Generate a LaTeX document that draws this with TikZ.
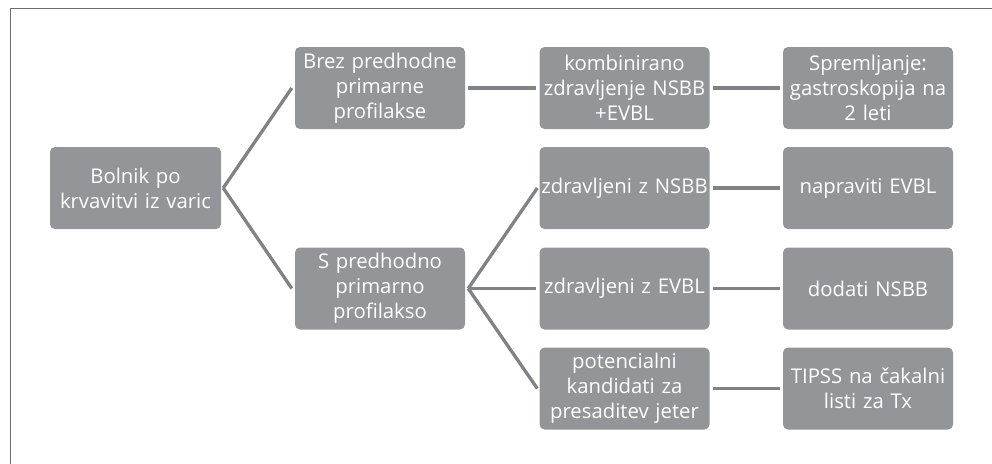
\documentclass[tikz,border=0pt]{standalone}
\usepackage{fontspec}
\setmainfont{Open Sans}
\definecolor{boxgray}{HTML}{939598}
\definecolor{linegray}{HTML}{808285}
\definecolor{framegray}{HTML}{6D6E71}
\begin{document}
\begin{tikzpicture}[x=1pt,y=-1pt,
  box/.style={fill=boxgray, rounded corners=5pt, minimum width=170pt, minimum height=82pt,
    inner sep=0pt, text=white, align=center, text width=169pt,
    font=\fontsize{20.3pt}{25pt}\selectfont},
  conn/.style={draw=linegray, line width=3.3pt}]
\useasboundingbox (0,0) rectangle (992,463);
\draw[framegray, line width=1.4pt] (10.5,470) -- (10.5,8.5) -- (1000,8.5);
\node[box, minimum width=171pt] (root) at (135.5,188) {Bolnik po\\krvavitvi iz varic};
\node[box] (brez) at (380,88) {Brez predhodne\\primarne\\profilakse};
\node[box] (spred) at (380,288.5) {S predhodno\\primarno\\profilakso};
\node[box] (komb) at (624.5,88) {kombinirano\\zdravljenje NSBB\\+EVBL};
\node[box] (znsbb) at (624.5,188) {zdravljeni z NSBB};
\node[box] (zevbl) at (624.5,288.5) {zdravljeni z EVBL};
\node[box] (pot) at (624.5,388.5) {potencialni\\kandidati za\\presaditev jeter};
\node[box] (sprem) at (868,88) {Spremljanje:\\gastroskopija na\\2 leti};
\node[box] (napr) at (868,188) {napraviti EVBL};
\node[box] (dodat) at (868,288.5) {dodati NSBB};
\node[box] (tipss) at (868,388.5) {TIPSS na čakalni\\listi za Tx};
\draw[conn] ([xshift=2pt]root.east) -- ([xshift=-3pt]brez.west);
\draw[conn] ([xshift=2pt]root.east) -- ([xshift=-3pt]spred.west);
\draw[conn] ([xshift=3pt]brez.east) -- ([xshift=-3pt]komb.west);
\draw[conn] ([xshift=3pt]spred.east) -- ([xshift=-2pt]znsbb.west);
\draw[conn] ([xshift=3pt]spred.east) -- ([xshift=-3pt]zevbl.west);
\draw[conn] ([xshift=3pt]spred.east) -- ([xshift=-2pt]pot.west);
\draw[conn] ([xshift=3pt]komb.east) -- ([xshift=-3pt]sprem.west);
\draw[conn] ([xshift=3pt]znsbb.east) -- ([xshift=-3pt]napr.west);
\draw[conn] ([xshift=3pt]zevbl.east) -- ([xshift=-3pt]dodat.west);
\draw[conn] ([xshift=3pt]pot.east) -- ([xshift=-3pt]tipss.west);
\end{tikzpicture}
\end{document}
